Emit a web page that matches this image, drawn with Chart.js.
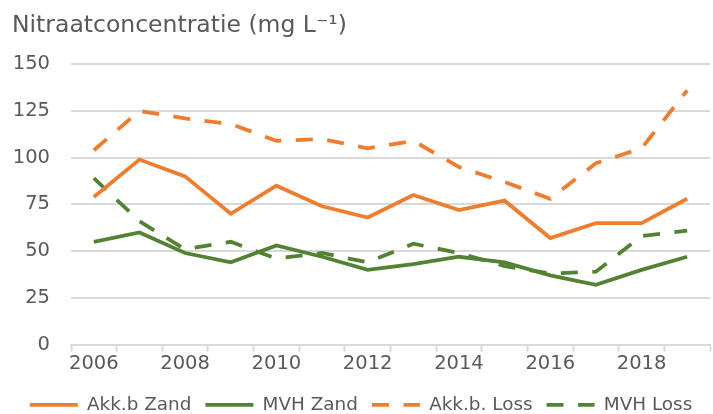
<!DOCTYPE html>
<html>
<head>
<meta charset="utf-8">
<script src="https://cdn.jsdelivr.net/npm/chart.js@4/dist/chart.umd.min.js"></script>
<style>
  html, body { margin: 0; padding: 0; background: #fff; }
  #wrap { width: 713px; height: 414px; }
</style>
</head>
<body>
<div id="wrap"><canvas id="myChart"></canvas></div>
<script>
const years = ['2006','2007','2008','2009','2010','2011','2012','2013','2014','2015','2016','2017','2018','2019'];
const akkZand = [79, 99, 90, 70, 85, 74, 68, 80, 72, 77, 57, 65, 65, 78];
const mvhZand = [55, 60, 49, 44, 53, 47, 40, 43, 47, 44, 37, 32, 40, 47];
const akkLoss = [104, 125, 121, 118, 109, 110, 105, 109, 95, 87, 78, 97, 105, 136];
const mvhLoss = [89, 66, 51, 55, 46, 49, 44, 54, 49, 42, 38, 39, 58, 61];

const orange = '#ED7D31';
const green = '#548235';
const textColor = '#595959';
const gridColor = '#d9d9d9';
const fontFamily = "'DejaVu Sans', Verdana, sans-serif";

function line(label, data, color, dash) {
    return {
        label: label,
        data: data,
        borderColor: color,
        backgroundColor: color,
        borderWidth: 3.8,
        borderDash: dash,
        pointRadius: 0,
        pointHoverRadius: 0,
        tension: 0,
        fill: false
    }
}

const ctx = document.getElementById('myChart').getContext('2d');
new Chart(ctx, {
    type: 'line',
    data: {
        labels: years,
        datasets: [
            line('Akk.b Zand', akkZand, orange, []),
            line('MVH Zand', mvhZand, green, []),
            line('Akk.b. Loss', akkLoss, orange, [17, 14.5]),
            line('MVH Loss', mvhLoss, green, [17, 14.5])
        ]
    },
    options: {
        responsive: true,
        maintainAspectRatio: false,
        animation: false,
        layout: { padding: { left: 12, right: 3, top: 0, bottom: -10 } },
        plugins: {
            title: {
                display: true,
                text: 'Nitraatconcentratie (mg L⁻¹)',
                align: 'start',
                color: textColor,
                font: { family: fontFamily, size: 23.5, weight: 'normal' },
                padding: { top: 12, bottom: 24 }
            },
            legend: {
                position: 'bottom',
                labels: {
                    color: textColor,
                    font: { family: fontFamily, size: 18.4 },
                    usePointStyle: true,
                    pointStyle: 'line',
                    pointStyleWidth: 48,
                    boxWidth: 48,
                    padding: 14,
                    generateLabels: function(chart) {
                        const items = Chart.defaults.plugins.legend.labels.generateLabels(chart);
                        items.forEach(function(item) {
                            const ds = chart.data.datasets[item.datasetIndex];
                            item.lineDash = ds.borderDash;
                            item.strokeStyle = ds.borderColor;
                            item.lineWidth = ds.borderWidth;
                            item.pointStyle = 'line';
                        });
                        return items;
                    }
                }
            },
            tooltip: { enabled: false }
        },
        scales: {
            x: {
                offset: true,
                grid: {
                    offset: true,
                    drawOnChartArea: false,
                    drawTicks: true,
                    tickLength: 7,
                    tickWidth: 2,
                    tickColor: gridColor
                },
                border: { color: gridColor, width: 2 },
                ticks: {
                    autoSkip: false,
                    maxRotation: 0,
                    color: textColor,
                    font: { family: fontFamily, size: 19.5 },
                    padding: 1,
                    callback: function(value, index) {
                        return index % 2 === 0 ? years[index] : '';
                    }
                },
                afterFit: function(scale) { scale.height = 37; }
            },
            y: {
                min: 0,
                max: 150,
                grid: { color: gridColor, lineWidth: 2, drawTicks: false },
                border: { display: false },
                ticks: {
                    stepSize: 25,
                    color: textColor,
                    font: { family: fontFamily, size: 19.5 },
                    padding: 21
                },
                afterFit: function(scale) { scale.width = 59; }
            }
        }
    }
});
</script>
</body>
</html>
